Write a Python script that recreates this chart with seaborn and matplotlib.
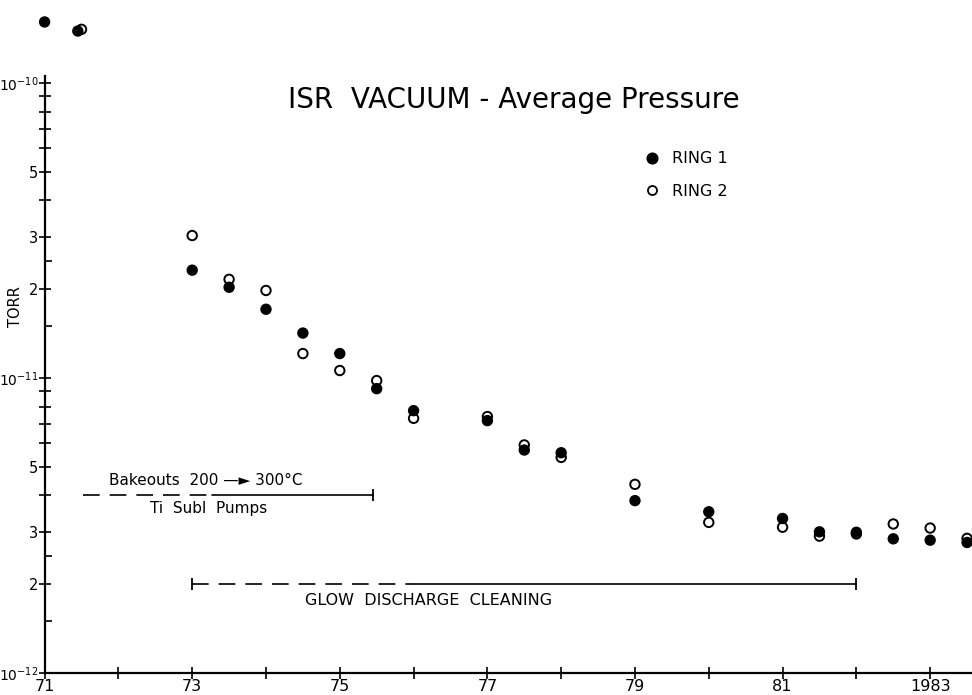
import numpy as np
import pandas as pd
import matplotlib
matplotlib.use("Agg")
import matplotlib.pyplot as plt
import seaborn as sns
from matplotlib.lines import Line2D
from matplotlib.ticker import NullFormatter, NullLocator

# ---------------- data ----------------
ring1_year = [71.0, 71.45, 73.0, 73.5, 74.0, 74.5, 75.0, 75.5, 76.0, 77.0, 77.5,
              78.0, 79.0, 80.0, 81.0, 81.5, 82.0, 82.5, 83.0, 83.5]
ring1_torr = [1.61e-10, 1.50e-10, 2.32e-11, 2.03e-11, 1.71e-11, 1.42e-11, 1.21e-11,
              0.92e-11, 7.75e-12, 7.17e-12, 5.70e-12, 5.58e-12, 3.84e-12, 3.52e-12,
              3.34e-12, 3.01e-12, 3.00e-12, 2.85e-12, 2.82e-12, 2.77e-12]
ring2_year = [71.5, 73.0, 73.5, 74.0, 74.5, 75.0, 75.5, 76.0, 77.0, 77.5, 78.0,
              79.0, 80.0, 81.0, 81.5, 82.0, 82.5, 83.0, 83.5]
ring2_torr = [1.52e-10, 3.04e-11, 2.16e-11, 1.98e-11, 1.21e-11, 1.06e-11, 0.98e-11,
              7.30e-12, 7.40e-12, 5.93e-12, 5.38e-12, 4.36e-12, 3.24e-12, 3.12e-12,
              2.91e-12, 2.96e-12, 3.20e-12, 3.10e-12, 2.86e-12]
series_names = ["RING 1", "RING 2"]

x_ticks = list(range(71, 84))
x_tick_labels = ["71", "", "73", "", "75", "", "77", "", "79", "", "81", "", "1983"]
y_major_ticks = [1e-12, 2e-12, 3e-12, 4e-12, 5e-12, 6e-12, 7e-12, 8e-12, 9e-12,
                 1e-11, 2e-11, 3e-11, 4e-11, 5e-11, 6e-11, 7e-11, 8e-11, 9e-11, 1e-10]
y_major_labels = [r"$10^{-12}$", "2", "3", "", "5", "", "", "", "",
                  r"$10^{-11}$", "2", "3", "", "5", "", "", "", "", r"$10^{-10}$"]
y_minor_ticks = [1.5e-12, 2.5e-12, 1.5e-11, 2.5e-11]

title_text = "ISR  VACUUM - Average Pressure"
y_label = "TORR"
bakeout_text = "Bakeouts  200 —► 300°C"
tisubl_text = "Ti  Subl  Pumps"
glow_text = "GLOW  DISCHARGE  CLEANING"
# annotation spans (years): dashed start, solid start, end ; level in torr
bakeout_span = [71.52, 73.27, 75.45]
bakeout_level = 4e-12
glow_span = [73.0, 76.0, 82.0]
glow_level = 2e-12

# ---------------- frame ----------------
df = pd.concat([
    pd.DataFrame({"year": ring2_year, "torr": ring2_torr, "ring": series_names[1]}),
    pd.DataFrame({"year": ring1_year, "torr": ring1_torr, "ring": series_names[0]}),
], ignore_index=True)

sns.set_style("ticks")
plt.rcParams["font.family"] = ["DejaVu Sans"]
plt.rcParams["mathtext.fontset"] = "dejavusans"
plt.rcParams["text.color"] = "black"
plt.rcParams["axes.labelcolor"] = "black"

W, H = 972, 695
fig = plt.figure(figsize=(W / 100, H / 100), dpi=100)
ax_left, ax_right, ax_top, ax_bottom = 44.6, 972, 76, 673
ax = fig.add_axes([ax_left / W, (H - ax_bottom) / H,
                   (ax_right - ax_left) / W, (ax_bottom - ax_top) / H])

sns.scatterplot(data=df, x="year", y="torr", hue="ring",
                palette={series_names[0]: "black", series_names[1]: "white"},
                edgecolor="black", linewidth=1.4, s=46, legend=False,
                clip_on=False, zorder=4, ax=ax)

ax.set_yscale("log")
ax.set_xlim(71, 83.567)
ax.set_ylim(1e-12, 1.056e-10)

for s in ["top", "right"]:
    ax.spines[s].set_visible(False)
for s in ["left", "bottom"]:
    ax.spines[s].set_linewidth(1.6)
    ax.spines[s].set_color("black")

ax.set_xticks(x_ticks, x_tick_labels)
ax.set_yticks(y_major_ticks, y_major_labels)
ax.set_yticks(y_minor_ticks, minor=True)
ax.yaxis.set_minor_formatter(NullFormatter())
ax.xaxis.set_minor_locator(NullLocator())
ax.tick_params(axis="x", which="major", direction="inout", length=8, width=1.2,
               labelsize=11.5, pad=0, colors="black")
ax.tick_params(axis="y", which="major", direction="inout", length=9, width=1.2,
               labelsize=10.5, pad=0, colors="black")
ax.tick_params(axis="y", which="minor", direction="in", length=5, width=1.2,
               colors="black")
for lab in ax.get_yticklabels():
    if "10" in lab.get_text():
        lab.set_fontsize(10)

ax.set_xlabel("")
ax.set_ylabel(y_label, fontsize=10.5)
ax.yaxis.set_label_coords((23 - ax_left) / (ax_right - ax_left),
                          (ax_bottom - 307) / (ax_bottom - ax_top))

# title
ax.text((288 - ax_left) / (ax_right - ax_left), (ax_bottom - 100) / (ax_bottom - ax_top),
        title_text, transform=ax.transAxes, ha="left", va="center", fontsize=20)

# legend
handles = [
    Line2D([], [], ls="", marker="o", ms=7.5, mfc="black", mec="black", mew=1.2),
    Line2D([], [], ls="", marker="o", ms=6.5, mfc="white", mec="black", mew=1.3),
]
ax.legend(handles, series_names, loc="center left", frameon=False, fontsize=11.5,
          handlelength=1.0, handletextpad=0.75, labelspacing=1.1, borderpad=0.4,
          bbox_to_anchor=(630 / W, (H - 175) / H), bbox_transform=fig.transFigure)

# annotations
dash = (0, (10, 6))
ax.plot(bakeout_span[:2], [bakeout_level] * 2, ls=dash, lw=1.2, color="black")
ax.plot(bakeout_span[1:], [bakeout_level] * 2, ls="-", lw=1.2, color="black")
ax.plot([bakeout_span[2]], [bakeout_level], ls="", marker="|", ms=8, mew=1.3, color="black")
ax.text(71.87, bakeout_level * 1.06, bakeout_text, ha="left", va="bottom", fontsize=11)
ax.text(72.43, bakeout_level * 0.96, tisubl_text, ha="left", va="top", fontsize=11)

ax.plot(glow_span[:2], [glow_level] * 2, ls=dash, lw=1.2, color="black")
ax.plot(glow_span[1:], [glow_level] * 2, ls="-", lw=1.2, color="black")
ax.plot([glow_span[0], glow_span[2]], [glow_level] * 2, ls="", marker="|", ms=9,
        mew=1.3, color="black")
ax.text(74.53, glow_level * 0.93, glow_text, ha="left", va="top", fontsize=11.5)

fig.savefig("out.png", dpi=100)
